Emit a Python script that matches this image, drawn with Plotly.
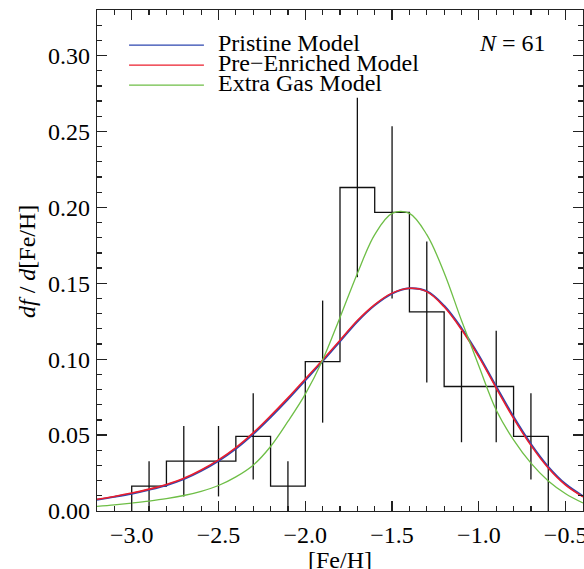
import plotly.graph_objects as go

# ---------------- data ----------------
bin_left = [-3.0, -2.8, -2.6, -2.4, -2.2, -2.0, -1.8, -1.6, -1.4, -1.2, -1.0, -0.8]
bin_right_end = -0.6
bin_center = [-2.9, -2.7, -2.5, -2.3, -2.1, -1.9, -1.7, -1.5, -1.3, -1.1, -0.9, -0.7]
hist_height = [0.0164, 0.0328, 0.0328, 0.0492, 0.0164, 0.0984,
               0.2131, 0.1967, 0.1311, 0.0820, 0.0820, 0.0492]
hist_err = [0.0164, 0.0232, 0.0232, 0.0284, 0.0164, 0.0402,
            0.0591, 0.0568, 0.0464, 0.0367, 0.0367, 0.0284]

model_x = [-3.2, -3.1, -3.0, -2.9, -2.8, -2.7, -2.6, -2.5, -2.4, -2.3,
           -2.2, -2.1, -2.0, -1.9, -1.8, -1.7, -1.6, -1.5, -1.4, -1.3,
           -1.2, -1.1, -1.0, -0.9, -0.8, -0.7, -0.6, -0.5, -0.4]
pristine = [0.0074, 0.0093, 0.0114, 0.0140, 0.0170, 0.0210, 0.0264, 0.0330, 0.0410, 0.0507,
            0.0618, 0.0736, 0.0861, 0.0987, 0.1117, 0.1248, 0.1355, 0.1432, 0.1467, 0.1448,
            0.1352, 0.1204, 0.1025, 0.0820, 0.0620, 0.0441, 0.0291, 0.0177, 0.0098]
pre_enriched = [0.0077, 0.0096, 0.0118, 0.0144, 0.0175, 0.0215, 0.0270, 0.0337, 0.0418, 0.0515,
                0.0627, 0.0745, 0.0870, 0.0995, 0.1125, 0.1255, 0.1360, 0.1435, 0.1467, 0.1445,
                0.1345, 0.1195, 0.1015, 0.0810, 0.0610, 0.0432, 0.0283, 0.0170, 0.0093]
extra_gas = [0.0030, 0.0040, 0.0052, 0.0065, 0.0081, 0.0102, 0.0130, 0.0168, 0.0225, 0.0302,
             0.0425, 0.0590, 0.0770, 0.0995, 0.1275, 0.1565, 0.1820, 0.1960, 0.1960, 0.1820,
             0.1570, 0.1255, 0.0955, 0.0665, 0.0468, 0.0315, 0.0198, 0.0114, 0.0053]

series_names = ["Pristine Model", "Pre\u2212Enriched Model", "Extra Gas Model"]
series_colors = ["rgb(45,70,175)", "rgb(235,30,45)", "rgb(110,190,70)"]
n_stars = 61
x_title = "[Fe/H]"
y_title = "<i>df</i> / <i>d</i>[Fe/H]"

x_ticks = [-3.0, -2.5, -2.0, -1.5, -1.0, -0.5]
y_ticks = [0.00, 0.05, 0.10, 0.15, 0.20, 0.25, 0.30]

FONT = "Liberation Serif, Times New Roman, serif"

# ---------------- figure ----------------
fig = go.Figure()

# histogram as step line
step_x = [bin_left[0]] + bin_left + [bin_right_end]
step_y = [0] + hist_height + [0]
fig.add_trace(go.Scatter(x=step_x, y=step_y, mode="lines", line_shape="hv",
                         line=dict(color="#111", width=1.3), showlegend=False,
                         hoverinfo="skip"))

# error bars
fig.add_trace(go.Scatter(x=bin_center, y=hist_height, mode="markers",
                         marker=dict(color="rgba(0,0,0,0)", size=1),
                         error_y=dict(type="data", array=hist_err, visible=True,
                                      color="#111", thickness=1.3, width=0),
                         showlegend=False))

for name, ys, col, w in zip(series_names, [pristine, pre_enriched, extra_gas],
                            series_colors, [2.0, 1.6, 1.3]):
    fig.add_trace(go.Scatter(x=model_x, y=ys, mode="lines", name=name,
                             line=dict(color=col, width=w, shape="spline", smoothing=1.0),
                             showlegend=False))

# legend drawn as short lines + text (paper coords)
leg_y = [0.930, 0.890, 0.850]
for name, col, yy in zip(series_names, series_colors, leg_y):
    fig.add_shape(type="line", xref="paper", yref="paper",
                  x0=0.066, x1=0.220, y0=yy, y1=yy,
                  line=dict(color=col, width=1.3))
    fig.add_annotation(xref="paper", yref="paper", x=0.245, y=yy + 0.004,
                       text=name, showarrow=False, xanchor="left", yanchor="middle",
                       font=dict(family=FONT, size=24, color="black"))

fig.add_annotation(xref="paper", yref="paper", x=0.928, y=0.934,
                   text=f"<i>N</i> = {n_stars}", showarrow=False,
                   xanchor="right", yanchor="middle",
                   font=dict(family=FONT, size=24, color="black"))

# axis titles as annotations (exact placement)
fig.add_annotation(xref="paper", yref="paper", x=0.5, y=-0.098,
                   text=x_title, showarrow=False, xanchor="center", yanchor="middle",
                   font=dict(family=FONT, size=24, color="black"))
fig.add_annotation(xref="paper", yref="paper", x=-0.144, y=0.497,
                   text=y_title, showarrow=False, textangle=-90,
                   xanchor="center", yanchor="middle",
                   font=dict(family=FONT, size=24, color="black"))

axis_common = dict(showgrid=False, zeroline=False, showline=True, linecolor="#222",
                   linewidth=1.3, mirror="allticks", ticks="inside", ticklen=10,
                   tickwidth=1.2, tickcolor="#222",
                   tickfont=dict(family=FONT, size=24, color="black"))

fig.update_xaxes(range=[-3.2, -0.4], tickvals=x_ticks, tickformat=".1f",
                 minor=dict(dtick=0.1, tick0=0, ticks="inside", ticklen=5,
                            tickwidth=1.2, tickcolor="#222"),
                 ticklabeloverflow="allow", ticklabelstandoff=2,
                 **axis_common)
fig.update_yaxes(range=[0, 0.33], tickvals=y_ticks, tickformat=".2f",
                 minor=dict(dtick=0.01, tick0=0, ticks="inside", ticklen=5,
                            tickwidth=1.2, tickcolor="#222"),
                 ticklabelstandoff=1,
                 **axis_common)

fig.update_layout(width=584, height=569, autosize=False,
                  margin=dict(l=97, r=1, t=10, b=58, autoexpand=False),
                  plot_bgcolor="white", paper_bgcolor="white",
                  showlegend=False)

# remove the default 8px page margin and scrollbars so the figure fills the window
fig.write_html("out.html",
               config={"displayModeBar": False, "staticPlot": True},
               post_script="document.body.style.margin='0';"
                           "document.body.style.overflow='hidden';"
                           "document.documentElement.style.overflow='hidden';")
